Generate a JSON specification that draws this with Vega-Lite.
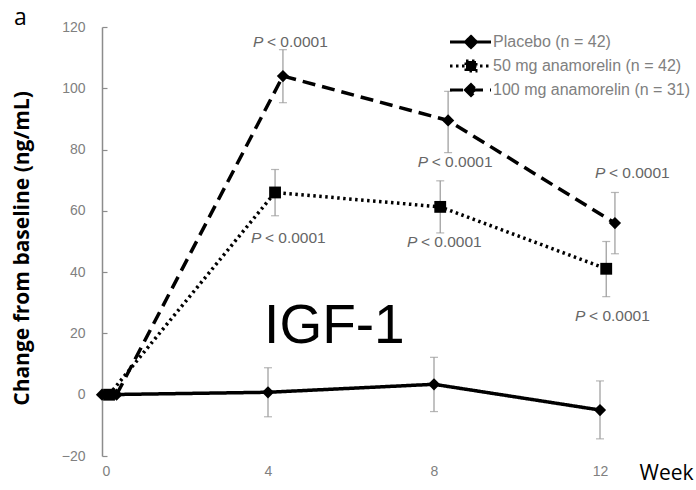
{
  "$schema": "https://vega.github.io/schema/vega-lite/v6.json",
  "width": 581,
  "height": 429,
  "autosize": {"type": "none"},
  "padding": {"left": 102, "top": 27, "right": 13, "bottom": 34},
  "background": "white",
  "title": {"text": "a", "anchor": "start", "frame": "group", "dx": -88, "dy": 28, "offset": 0, "baseline": "alphabetic", "font": "Open Sans", "fontSize": 23, "fontWeight": "normal", "color": "black"},
  "config": {"view": {"stroke": null}, "font": "Liberation Sans"},
  "datasets": {
    "series": [
      {"group": "Placebo (n = 42)", "week": 0, "value": 0, "lo": null, "hi": null},
      {"group": "Placebo (n = 42)", "week": 4, "value": 0.8, "lo": -7.2, "hi": 8.8},
      {"group": "Placebo (n = 42)", "week": 8, "value": 3.4, "lo": -5.5, "hi": 12.2},
      {"group": "Placebo (n = 42)", "week": 12, "value": -5, "lo": -14.4, "hi": 4.5},
      {"group": "50 mg anamorelin (n = 42)", "week": 0.17, "value": 0, "lo": null, "hi": null},
      {"group": "50 mg anamorelin (n = 42)", "week": 4.17, "value": 66, "lo": 58.4, "hi": 73.5},
      {"group": "50 mg anamorelin (n = 42)", "week": 8.15, "value": 61.3, "lo": 52.8, "hi": 69.8},
      {"group": "50 mg anamorelin (n = 42)", "week": 12.15, "value": 41.1, "lo": 32, "hi": 50},
      {"group": "100 mg anamorelin (n = 31)", "week": 0.35, "value": 0, "lo": null, "hi": null},
      {"group": "100 mg anamorelin (n = 31)", "week": 4.36, "value": 104, "lo": 95.3, "hi": 112.6},
      {"group": "100 mg anamorelin (n = 31)", "week": 8.34, "value": 89.5, "lo": 79, "hi": 99},
      {"group": "100 mg anamorelin (n = 31)", "week": 12.36, "value": 56, "lo": 46, "hi": 66}
    ],
    "plabels": [
      {"week": 4.53, "value": 115.2, "p": "P", "rest": "< 0.0001"},
      {"week": 8.5, "value": 76, "p": "P", "rest": "< 0.0001"},
      {"week": 12.77, "value": 72.4, "p": "P", "rest": "< 0.0001"},
      {"week": 4.48, "value": 51.2, "p": "P", "rest": "< 0.0001"},
      {"week": 8.24, "value": 50, "p": "P", "rest": "< 0.0001"},
      {"week": 12.29, "value": 25.8, "p": "P", "rest": "< 0.0001"}
    ],
    "ann": [
      {"week": 5.6, "value": 17, "label": "IGF-1"}
    ]
  },
  "layer": [
    {
      "mark": {"type": "rule", "color": "#8c8c8c", "strokeWidth": 1.5},
      "encoding": {"y": {"datum": 0, "type": "quantitative", "scale": {"domain": [-20, 120]}}}
    },
    {
      "data": {"name": "series"},
      "transform": [{"filter": "datum.lo != null"}],
      "mark": {"type": "rule", "color": "#999999", "strokeWidth": 1.2},
      "encoding": {
        "x": {"field": "week", "type": "quantitative"},
        "y": {"field": "lo", "type": "quantitative"},
        "y2": {"field": "hi"}
      }
    },
    {
      "data": {"name": "series"},
      "transform": [{"filter": "datum.lo != null"}],
      "mark": {"type": "tick", "orient": "horizontal", "color": "#999999", "size": 8, "thickness": 1.2},
      "encoding": {
        "x": {"field": "week", "type": "quantitative"},
        "y": {"field": "lo", "type": "quantitative"}
      }
    },
    {
      "data": {"name": "series"},
      "transform": [{"filter": "datum.lo != null"}],
      "mark": {"type": "tick", "orient": "horizontal", "color": "#999999", "size": 8, "thickness": 1.2},
      "encoding": {
        "x": {"field": "week", "type": "quantitative"},
        "y": {"field": "hi", "type": "quantitative"}
      }
    },
    {
      "data": {"name": "series"},
      "mark": {"type": "line", "color": "black", "strokeWidth": 3.5},
      "encoding": {
        "x": {
          "field": "week", "type": "quantitative",
          "scale": {"domain": [0, 14], "nice": false},
          "axis": {
            "values": [0, 4, 8, 12], "domain": false, "ticks": false, "grid": false,
            "labelColor": "#808080", "labelFontSize": 14, "labelPadding": 8, "labelFont": "Liberation Sans",
            "title": "Week", "titleFont": "Open Sans", "titleFontSize": 21, "titleFontWeight": "normal", "titleColor": "black",
            "titleAlign": "left", "titleAnchor": "start", "titleBaseline": "alphabetic", "titleX": 537, "titleY": 23
          }
        },
        "y": {
          "field": "value", "type": "quantitative",
          "scale": {"domain": [-20, 120], "nice": false},
          "axis": {
            "values": [-20, 0, 20, 40, 60, 80, 100, 120], "grid": false,
            "domainColor": "#8c8c8c", "domainWidth": 1.5, "tickColor": "#8c8c8c", "tickSize": -5, "tickWidth": 1.2,
            "labelColor": "#808080", "labelFontSize": 14, "labelPadding": 22, "labelFont": "Liberation Sans",
            "title": "Change from baseline (ng/mL)", "titleFont": "Open Sans", "titleFontSize": 21, "titleFontWeight": "bold", "titleColor": "black",
            "titleX": -70, "titleY": 221
          }
        },
        "strokeDash": {
          "field": "group", "type": "nominal",
          "scale": {"domain": ["Placebo (n = 42)", "50 mg anamorelin (n = 42)", "100 mg anamorelin (n = 31)"], "range": [[1, 0], [2.5, 3.5], [13, 7]]},
          "legend": {
            "title": null, "orient": "none", "legendX": 361, "legendY": 7, "padding": 0,
            "labelColor": "#808080", "labelFontSize": 16, "labelFont": "Liberation Sans", "labelOffset": 14, "labelLimit": 300,
            "symbolSize": 100, "rowPadding": 1, "symbolStrokeWidth": 3,
            "symbolType": "M-4.2,0L4,0M-1.1,0L0,-1.1L1.1,0L0,1.1Z",
            "symbolFillColor": "black", "symbolStrokeColor": "black",
            "encode": {
              "symbols": {
                "update": {
                  "shape": {"signal": "datum.value === '50 mg anamorelin (n = 42)' ? 'M-4.2,0L4,0M-1,-1L1,-1L1,1L-1,1Z' : 'M-4.2,0L4,0M-1.1,0L0,-1.1L1.1,0L0,1.1Z'"},
                  "fill": {"value": "black"},
                  "fillOpacity": {"value": 1},
                  "stroke": {"value": "black"},
                  "strokeOpacity": {"value": 1},
                  "strokeWidth": {"value": 3}
                }
              }
            }
          }
        }
      }
    },
    {
      "data": {"name": "series"},
      "transform": [{"filter": "datum.group !== '50 mg anamorelin (n = 42)'"}],
      "mark": {"type": "point", "shape": "diamond", "filled": true, "color": "black", "opacity": 1, "size": 150},
      "encoding": {
        "x": {"field": "week", "type": "quantitative"},
        "y": {"field": "value", "type": "quantitative"}
      }
    },
    {
      "data": {"name": "series"},
      "transform": [{"filter": "datum.group === '50 mg anamorelin (n = 42)'"}],
      "mark": {"type": "point", "shape": "square", "filled": true, "color": "black", "opacity": 1, "size": 140},
      "encoding": {
        "x": {"field": "week", "type": "quantitative"},
        "y": {"field": "value", "type": "quantitative"}
      }
    },
    {
      "data": {"name": "plabels"},
      "mark": {"type": "text", "align": "left", "baseline": "middle", "dx": -37, "fontSize": 15.5, "fontStyle": "italic", "color": "#666666", "font": "Liberation Sans"},
      "encoding": {
        "x": {"field": "week", "type": "quantitative"},
        "y": {"field": "value", "type": "quantitative"},
        "text": {"field": "p"}
      }
    },
    {
      "data": {"name": "plabels"},
      "mark": {"type": "text", "align": "left", "baseline": "middle", "dx": -23, "fontSize": 15.5, "color": "#666666", "font": "Liberation Sans"},
      "encoding": {
        "x": {"field": "week", "type": "quantitative"},
        "y": {"field": "value", "type": "quantitative"},
        "text": {"field": "rest"}
      }
    },
    {
      "data": {"name": "ann"},
      "mark": {"type": "text", "align": "center", "baseline": "alphabetic", "fontSize": 55, "color": "black", "font": "Liberation Sans"},
      "encoding": {
        "x": {"field": "week", "type": "quantitative"},
        "y": {"field": "value", "type": "quantitative"},
        "text": {"field": "label"}
      }
    }
  ]
}
